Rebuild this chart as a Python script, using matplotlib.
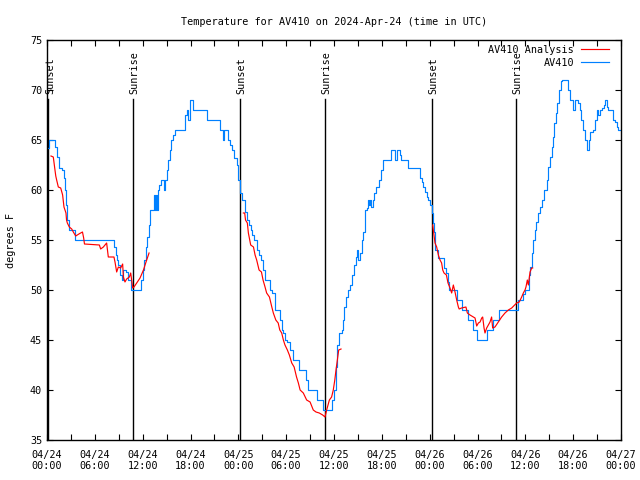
import numpy as np
import matplotlib
matplotlib.use("Agg")
import matplotlib.pyplot as plt
import matplotlib.dates as mdates
from datetime import datetime, timedelta

plt.rcParams['font.family'] = ['DejaVu Sans Mono']

title = "Temperature for AV410 on 2024-Apr-24 (time in UTC)"
base = datetime(2024, 4, 24)

# AV410 observations: hours since 2024-04-24 00:00 UTC, temperature (F)
obs_hours = [0.17, 0.29, 0.88, 1.05, 1.3, 1.55, 1.84, 2.13, 2.3, 2.4, 2.5, 2.8, 3.5, 8.24, 8.4, 8.6, 8.8, 8.95,
             9.15, 9.37, 9.58, 9.9, 10.1, 10.5, 11.6, 11.8, 12.0, 12.2, 12.4, 12.6, 12.75, 12.92, 13.3, 13.45,
             13.55, 13.65, 13.75, 13.9, 14.1, 14.26, 14.55, 14.68, 14.85, 15.0, 15.2, 15.4, 15.6, 15.85, 16.06,
             17.2, 17.3, 17.5, 17.65, 17.94, 18.23, 18.35, 19.9, 20.03, 21.5, 21.7, 22.0, 22.1, 22.25, 22.5,
             22.74, 22.95, 23.2, 23.46, 23.8, 24.0, 24.2, 24.45, 24.84, 25.1, 25.3, 25.55, 25.75, 26.0, 26.3,
             26.6, 26.8, 27.05, 27.35, 27.89, 28.0, 28.2, 28.6, 29.02, 29.2, 29.44, 29.65, 29.9, 30.1, 30.48,
             30.82, 31.53, 31.65, 32.24, 32.45, 32.78, 33.74, 33.83, 34.33, 34.58, 35.42, 35.7, 36.0, 36.25,
             36.42, 36.6, 36.96, 37.1, 37.3, 37.5, 37.8, 38.0, 38.22, 38.5, 38.75, 38.93, 39.05, 39.25, 39.47,
             39.65, 39.89, 40.1, 40.31, 40.4, 40.48, 40.65, 40.85, 41.06, 41.3, 41.64, 41.9, 42.19, 42.9, 43.15,
             43.45, 43.65, 43.85, 44.07, 44.25, 44.4, 45.12, 45.33, 46.66, 46.79, 47.0, 47.2, 47.4, 47.62, 47.83,
             48.0, 48.25, 48.38, 48.5, 48.67, 49.0, 49.09, 49.6, 49.8, 50.1, 50.3, 50.47, 51.18, 51.39, 52.0,
             52.02, 52.75, 52.85, 53.3, 53.4, 53.9, 53.98, 54.94, 55.15, 55.9, 55.98, 56.65, 56.73, 58.91, 59.12,
             59.65, 59.75, 59.96, 60.17, 60.4, 60.59, 60.8, 61.0, 61.21, 61.4, 61.63, 61.85, 62.05, 62.4, 62.76,
             62.89, 63.1, 63.3, 63.5, 63.64, 63.85, 64.02, 64.27, 64.44, 64.56, 65.27, 65.4, 65.6, 65.8, 66.02,
             66.23, 66.5, 66.65, 66.85, 67.0, 67.19, 67.45, 67.78, 67.95, 68.15, 68.53, 68.75, 68.95, 69.15,
             69.4, 69.58, 69.85, 70.04, 70.2, 70.41, 71.0, 71.04, 71.3, 71.45, 71.6, 71.9]
obs_temps = [64.2, 65, 65, 64.3, 63.3, 62.2, 62, 61.2, 60, 58.5, 57, 56, 55, 55, 54.3, 53.5, 53, 52.5,
             51.5, 51, 52, 51.8, 51, 50, 50, 51, 52, 53, 54.3, 55.3, 56.5, 58, 58, 59.5,
             58, 59.5, 58, 60, 60.5, 61, 61, 60, 61, 62, 63, 64, 65, 65.5, 66,
             66, 67.5, 68, 67, 69, 69, 68, 68, 67, 67, 66, 66, 65, 66, 66,
             65, 64.5, 64, 63.2, 62.5, 61, 59.7, 59, 57.8, 57, 56.5, 56, 55.5, 55, 54,
             53.5, 53, 52, 51, 51, 50, 49.7, 48, 48, 47, 46, 45.7, 45, 44.8, 44,
             43, 43, 42, 42, 41, 40, 40, 39, 39, 38, 38, 39, 40, 42.3,
             44.5, 45.7, 46, 47, 48.3, 49.3, 50, 50.5, 51.5, 52.5, 53.3, 54, 53, 53.7, 55,
             55.8, 58, 58.2, 59, 58.5, 59, 58.3, 59, 59.7, 60.3, 61, 62, 63, 63, 64,
             64, 63, 64, 64, 63.5, 63, 63, 62.2, 62.2, 61.2, 60.8, 60.3, 59.8, 59.3, 59,
             58.5, 57.7, 56.7, 55.8, 54, 54, 53.2, 53.2, 52.2, 51.7, 50.8, 50, 50, 49, 49,
             48, 48, 47, 47, 46, 46, 45, 45, 46, 46, 47, 47, 48, 48, 49,
             49, 49.6, 50, 50, 51.5, 52.3, 53.7, 55, 56, 56.8, 57.7, 58.3, 59, 60, 61,
             62.3, 63.3, 64.3, 65.3, 66.7, 67.7, 68.7, 70, 70.9, 71, 71, 70, 69, 69, 68,
             69, 69, 68.7, 68, 67, 66, 65, 64, 65, 65.8, 66, 67, 68, 67.5,
             68, 68.2, 68.5, 69, 68.3, 68, 68, 67, 66.8, 66.3, 66, 66]

# AV410 Analysis (three separate runs)
ana_hours_1 = [0.5, 0.79, 1.0, 1.1, 1.21, 1.42, 1.72, 1.96, 2.13, 2.38, 2.45, 2.55, 2.8, 3.1, 3.3, 3.6, 4.0,
               4.45, 4.6, 4.7, 6.57, 6.73, 7.07, 7.48, 7.69, 8.4, 8.53, 8.74, 8.95, 9.24, 9.49, 9.58, 9.78,
               9.99, 10.33, 10.5, 10.75, 10.91, 11.25, 11.67, 12.1, 12.42, 12.8]
ana_temps_1 = [63.4, 63.3, 62.0, 61.4, 61.0, 60.3, 60.2, 59.5, 58.3, 57.7, 57.0, 56.7, 56.3, 56.1, 55.8, 55.4, 55.6,
               55.8, 55.2, 54.6, 54.5, 54.1, 54.3, 54.7, 53.3, 53.3, 52.8, 51.8, 52.3, 52.2, 52.6, 51.3, 50.8,
               51.1, 51.3, 51.7, 50.2, 50.3, 50.7, 51.2, 52.0, 52.8, 53.7]
ana_hours_2 = [24.63, 24.8, 24.9, 25.13, 25.26, 25.55, 25.9, 26.1, 26.3, 26.6, 26.9, 27.1, 27.35, 27.55, 27.9,
               28.2, 28.39, 28.7, 29.0, 29.2, 29.44, 29.65, 29.85, 30.15, 30.4, 30.7, 31.0, 31.3, 31.53, 31.75,
               32.15, 32.57, 33.0, 33.4, 33.74, 34.15, 34.58, 34.87, 35.08, 35.42, 35.7, 35.91, 36.1, 36.25,
               36.42, 36.59, 36.88]
ana_temps_2 = [57.7, 57.7, 57.0, 56.7, 55.7, 54.5, 54.3, 53.5, 53.0, 52.0, 51.8, 51.0, 50.3, 49.7, 49.3,
               48.3, 47.7, 47.0, 46.7, 46.0, 45.7, 45.0, 44.5, 44.0, 43.5, 42.7, 42.3, 41.3, 40.7, 40.0,
               39.7, 39.0, 38.8, 38.0, 37.8, 37.7, 37.5, 37.3, 38.0, 39.0, 39.3, 40.0, 41.0, 42.0,
               43.0, 44.0, 44.1]
ana_hours_3 = [48.38, 48.67, 48.88, 49.09, 49.3, 49.5, 49.64, 49.8, 50.1, 50.3, 50.55, 50.76, 50.97, 51.18,
               51.39, 51.6, 51.7, 52.0, 52.55, 52.73, 53.06, 53.48, 53.69, 53.9, 54.11, 54.32, 54.53, 54.65,
               54.82, 54.94, 55.15, 55.36, 55.57, 55.77, 55.9, 56.19, 56.61, 57.03, 57.45, 57.87, 58.29, 58.91,
               59.24, 59.54, 59.75, 59.96, 60.08, 60.25, 60.38, 60.59, 60.8, 60.92]
ana_temps_3 = [56.5, 54.7, 54.3, 53.5, 53.0, 52.7, 52.0, 51.7, 51.5, 50.7, 50.2, 49.7, 50.5, 49.8,
               49.0, 48.3, 48.1, 48.2, 48.3, 47.7, 47.5, 47.3, 47.2, 46.4, 46.7, 46.8, 47.2, 47.3,
               46.2, 45.7, 46.2, 46.5, 46.8, 47.3, 46.2, 46.3, 46.8, 47.3, 47.7, 48.0, 48.2, 48.7,
               48.8, 49.3, 49.7, 50.0, 50.3, 51.0, 50.5, 51.8, 52.2, 52.2]

# Sun events (UTC)
sun_labels = ["Sunset", "Sunrise", "Sunset", "Sunrise", "Sunset", "Sunrise"]
sun_times = ["2024-04-24 00:11", "2024-04-24 10:47", "2024-04-25 00:13",
             "2024-04-25 10:52", "2024-04-26 00:16", "2024-04-26 10:50"]


def to_dt(hours):
    return [base + timedelta(hours=h) for h in hours]


fig = plt.figure(figsize=(6.4, 4.8), dpi=100)
ax = fig.add_axes([47 / 640, 40 / 480, 574 / 640, 400 / 480])

FS = 7.3
for lab, t in zip(sun_labels, sun_times):
    d = datetime.strptime(t, "%Y-%m-%d %H:%M")
    ax.plot([d, d], [35, 69.1], color='black', lw=1.0, zorder=1)
    ax.text(d + timedelta(minutes=12), 69.6, lab, rotation=90, ha='center', va='bottom',
            fontsize=FS, color='black')

red = '#ff0000'
blue = '#0080ff'
LW = 0.85
ax.plot(to_dt(ana_hours_1), ana_temps_1, color=red, lw=LW, label='AV410 Analysis', zorder=3)
ax.plot(to_dt(ana_hours_2), ana_temps_2, color=red, lw=LW, zorder=3)
ax.plot(to_dt(ana_hours_3), ana_temps_3, color=red, lw=LW, zorder=3)
ax.plot(to_dt(obs_hours), obs_temps, color=blue, lw=LW, drawstyle='steps-post', label='AV410', zorder=2)

ax.set_xlim(base, base + timedelta(hours=72))
ax.set_ylim(35, 75)
ax.set_yticks(range(35, 76, 5))
ax.xaxis.set_major_locator(mdates.HourLocator(byhour=[0, 6, 12, 18]))
ax.xaxis.set_minor_locator(mdates.HourLocator(byhour=[3, 9, 15, 21]))
ax.xaxis.set_major_formatter(mdates.DateFormatter('%m/%d\n%H:%M'))
ax.tick_params(which='both', direction='in', top=True, right=True, length=4, width=0.8,
               labelsize=FS, colors='black')
ax.tick_params(axis='x', pad=7)
for s in ax.spines.values():
    s.set_linewidth(1.0)

ax.set_ylabel('degrees F', fontsize=FS, labelpad=10)
ax.set_title(title, fontsize=FS, pad=11)

leg = ax.legend(loc='upper right', bbox_to_anchor=(0.979, 0.9875), frameon=False, markerfirst=False,
                fontsize=FS, handlelength=2.76, handletextpad=0.69, borderaxespad=0, borderpad=0,
                labelspacing=0.3)

fig.savefig('out.png', dpi=100)
